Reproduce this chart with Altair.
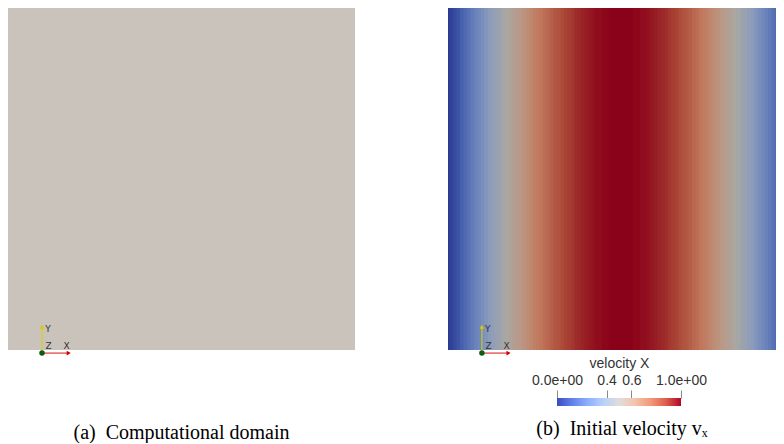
import altair as alt
import pandas as pd

# ---------------- data ----------------
# sample positions across the square domain (fraction of width)
x_frac = [i / 100 for i in range(101)]
# initial velocity v_x, column by column
vx = [0.00, 0.03, 0.06, 0.09, 0.13, 0.16, 0.19, 0.22, 0.25, 0.28,
      0.31, 0.34, 0.37, 0.40, 0.43, 0.45, 0.48, 0.51, 0.54, 0.56,
      0.59, 0.61, 0.64, 0.66, 0.68, 0.71, 0.73, 0.75, 0.77, 0.79,
      0.81, 0.83, 0.84, 0.86, 0.88, 0.89, 0.90, 0.92, 0.93, 0.94,
      0.95, 0.96, 0.97, 0.98, 0.98, 0.99, 0.99, 1.00, 1.00, 1.00,
      1.00,
      1.00, 1.00, 1.00, 0.99, 0.99, 0.98, 0.98, 0.97, 0.96, 0.95,
      0.94, 0.93, 0.92, 0.90, 0.89, 0.88, 0.86, 0.84, 0.83, 0.81,
      0.79, 0.77, 0.75, 0.73, 0.71, 0.68, 0.66, 0.64, 0.61, 0.59,
      0.56, 0.54, 0.51, 0.48, 0.45, 0.43, 0.40, 0.37, 0.34, 0.31,
      0.28, 0.25, 0.22, 0.19, 0.16, 0.13, 0.09, 0.06, 0.03, 0.00]

# colour bar
cbar_ticks = [0.0, 0.4, 0.6, 1.0]
cbar_labels = ["0.0e+00", "0.4", "0.6", "1.0e+00"]
cbar_title = "velocity X"
cbar_n = 124

captions = ["(a)\u00a0 Computational domain", "(b)\u00a0 Initial velocity vₓ"]

# Cool-to-Warm colour map stops
cmap_dom = [0.0, 0.125, 0.25, 0.375, 0.5, 0.625, 0.75, 0.875, 1.0]
cmap = ["#3b4cc0", "#6282ea", "#8db0fe", "#b8d0f9", "#dddddd",
        "#f5c4ad", "#f49a7b", "#de604d", "#b40426"]
# same map as it appears shaded on the lit surface
cmap_lit = ["#2b3a92", "#4660ae", "#6a82bb", "#8c9cbb", "#a8a8a4",
            "#bd9682", "#c0765a", "#aa4636", "#8a0219"]

# orientation triad (origin, arm length) in panel units
triad_origin = (0.098, -0.009)
triad_arm = 0.077

# ---------------- tables ----------------
step = 0.5 * (x_frac[1] - x_frac[0])
field_df = pd.DataFrame({
    "x0": [max(f - step, 0.0) for f in x_frac],
    "x1": [min(f + step + 0.003, 1.0) for f in x_frac],
    "y0": 0.0, "y1": 1.0, "v": vx,
})
domain_df = pd.DataFrame({"x0": [0.0], "x1": [1.0], "y0": [0.0], "y1": [1.0]})
cbar_df = pd.DataFrame({
    "x0": [i / cbar_n for i in range(cbar_n)],
    "x1": [min((i + 1.4) / cbar_n, 1.0) for i in range(cbar_n)],
    "y0": 0.0, "y1": 1.0,
    "c": [(i + 0.5) / cbar_n for i in range(cbar_n)],
})

ox, oy = triad_origin
a = triad_arm
lines_df = pd.DataFrame({
    "x": [ox, ox], "y": [oy, oy], "x2": [ox, ox + a], "y2": [oy + a, oy],
    "c": ["#d8d000", "#e01010"],
})
heads_df = pd.DataFrame({
    "x": [ox, ox + a], "y": [oy + a, oy],
    "shape": ["triangle-up", "triangle-right"], "c": ["#d8c800", "#d00000"],
})
labels_df = pd.DataFrame({
    "x": [ox + 0.017, ox + 0.019, ox + a - 0.006],
    "y": [oy + a - 0.008, oy + 0.02, oy + 0.02],
    "t": ["Y", "Z", "X"],
})
origin_df = pd.DataFrame({"x": [ox], "y": [oy]})


def triad_layers(xs, ys):
    lines = alt.Chart(lines_df).mark_rule(strokeWidth=1).encode(
        x=alt.X("x:Q", scale=xs, axis=None), y=alt.Y("y:Q", scale=ys, axis=None),
        x2="x2:Q", y2="y2:Q", color=alt.Color("c:N", scale=None))
    heads = alt.Chart(heads_df).mark_point(filled=True, size=22, opacity=1).encode(
        x=alt.X("x:Q", scale=xs, axis=None), y=alt.Y("y:Q", scale=ys, axis=None),
        shape=alt.Shape("shape:N", scale=None), color=alt.Color("c:N", scale=None))
    dot = alt.Chart(origin_df).mark_circle(size=30, color="#0b5d12", opacity=1).encode(
        x=alt.X("x:Q", scale=xs, axis=None), y=alt.Y("y:Q", scale=ys, axis=None))
    txt = alt.Chart(labels_df).mark_text(fontSize=9, font="DejaVu Sans", color="#333333",
                                         align="center", baseline="middle").encode(
        x=alt.X("x:Q", scale=xs, axis=None), y=alt.Y("y:Q", scale=ys, axis=None),
        text="t:N")
    return [lines, heads, dot, txt]


cap_style = dict(orient="bottom", anchor="middle", font="Liberation Serif",
                 fontSize=20, fontWeight="normal", color="black")

# ---------------- left panel ----------------
xs_l = alt.Scale(domain=[0, 1], nice=False, zero=False)
ys_l = alt.Scale(domain=[0, 1], nice=False, zero=False)
left_rect = alt.Chart(domain_df).mark_rect(color="#c9c3bb").encode(
    x=alt.X("x0:Q", scale=xs_l, axis=None), x2="x1:Q",
    y=alt.Y("y0:Q", scale=ys_l, axis=None), y2="y1:Q")
left = alt.layer(left_rect, *triad_layers(xs_l, ys_l)).properties(
    width=347, height=342,
    title=alt.TitleParams(captions[0], offset=67, **cap_style))

# ---------------- right panel (cut by the page edge) ----------------
xs_r = alt.Scale(domain=[0, 0.948], nice=False, zero=False)
ys_r = alt.Scale(domain=[0, 1], nice=False, zero=False)
field = alt.Chart(field_df).mark_rect(clip=True).encode(
    x=alt.X("x0:Q", scale=xs_r, axis=None), x2="x1:Q",
    y=alt.Y("y0:Q", scale=ys_r, axis=None), y2="y1:Q",
    color=alt.Color("v:Q", legend=None,
                    scale=alt.Scale(domain=cmap_dom, range=cmap_lit, interpolate="rgb")))
right_top = alt.layer(field, *triad_layers(xs_r, ys_r)).properties(width=328, height=342)

label_expr = " : ".join(
    f"datum.value == {t} ? '{l}'" for t, l in zip(cbar_ticks, cbar_labels)) + " : ''"
cbar = alt.Chart(cbar_df).mark_rect().encode(
    x=alt.X("x0:Q",
            scale=alt.Scale(domain=[0, 1], range=[109, 233], nice=False, zero=False),
            axis=alt.Axis(orient="top", values=cbar_ticks, labelExpr=label_expr,
                          title=cbar_title, domain=False, grid=False,
                          tickSize=8, tickColor="#8a8a8a", tickWidth=1,
                          labelFlush=False, labelOverlap=False,
                          labelFont="Liberation Sans", labelFontSize=14,
                          labelColor="#333333", labelPadding=3,
                          titleFont="Liberation Sans", titleFontSize=14,
                          titleFontWeight="normal", titleColor="#333333",
                          titlePadding=3)),
    x2="x1:Q",
    y=alt.Y("y0:Q", scale=alt.Scale(domain=[0, 1], nice=False, zero=False), axis=None),
    y2="y1:Q",
    color=alt.Color("c:Q", legend=None,
                    scale=alt.Scale(domain=cmap_dom, range=cmap, interpolate="rgb")),
).properties(width=328, height=8)

right = alt.vconcat(right_top, cbar, spacing=0).resolve_scale(
    x="independent", y="independent", color="independent").properties(
    title=alt.TitleParams(captions[1], offset=13, dx=10, **cap_style))

chart = alt.hconcat(left, right, spacing=93).resolve_scale(
    x="independent", y="independent", color="independent").configure_view(
    stroke=None).properties(padding=0)

chart.save("out.html", embed_options={"renderer": "svg", "actions": False})
